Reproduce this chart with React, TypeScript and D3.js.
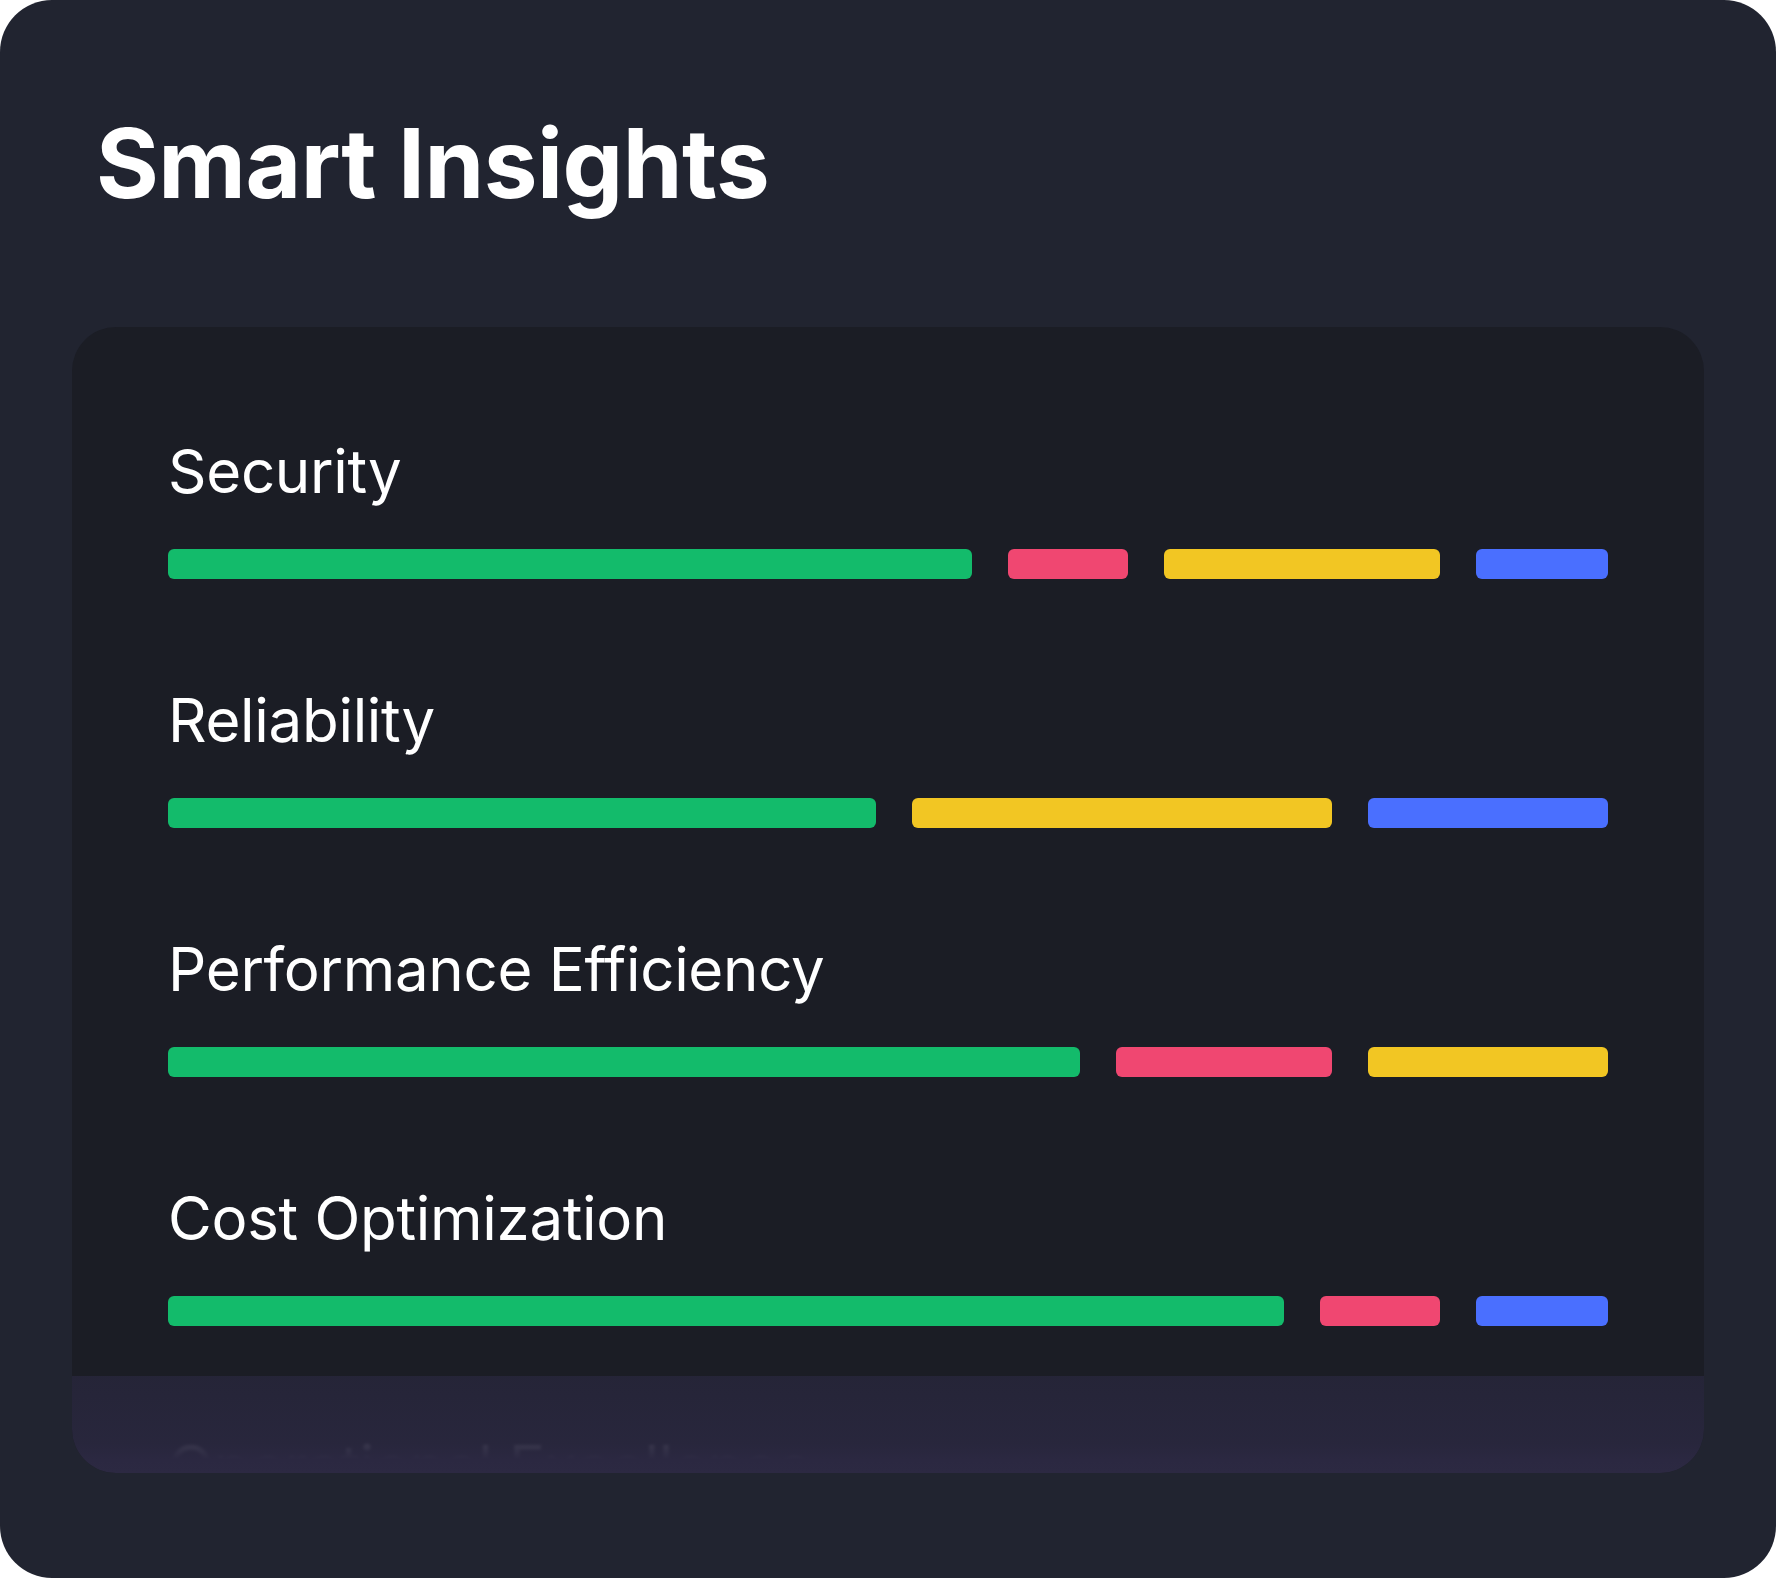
import React from 'react';
import * as d3 from 'd3';

const categories = ['Security', 'Reliability', 'Performance Efficiency', 'Cost Optimization', 'Operational Excellence'];

// finding counts per pillar (last pillar is hidden under the fade)
const passed = [67, 59, 76, 93];
const critical = [10, 0, 18, 10];
const warning = [23, 35, 20, 0];
const info = [11, 20, 0, 11];

const seriesColors = ['#13BB6B', '#F04771', '#F2C623', '#4A6FFF'];

const W = 1776;
const H = 1578;

function App() {
  const panel = { x: 72, y: 327, w: W - 144, h: 1146 };
  const padX = 96;
  const rowLeft = panel.x + padX;
  const rowWidth = panel.w - padX * 2;
  const gap = 36;
  const barH = 30;

  const rowY = d3.scalePoint<string>()
    .domain(categories)
    .range([493, 1489]);

  const rows = categories.slice(0, passed.length).map((cat, i) => {
    const vals = [passed[i], critical[i], warning[i], info[i]]
      .map((v, k) => ({ v, color: seriesColors[k] }))
      .filter(d => d.v > 0);
    const total = d3.sum(vals, d => d.v);
    const x = d3.scaleLinear()
      .domain([0, total])
      .range([0, rowWidth - gap * (vals.length - 1)]);
    let acc = 0;
    const segs = vals.map((d, k) => {
      const s = { x: rowLeft + x(acc) + k * gap, w: x(d.v), color: d.color };
      acc += d.v;
      return s;
    });
    return { cat, segs };
  });

  const fadeTop = 1376;

  return (
    <svg width={W} height={H} style={{ position: 'absolute', left: 0, top: 0, display: 'block' }}
      fontFamily="Inter, 'Noto Sans', sans-serif">
      <defs>
        <clipPath id="panelClip">
          <rect x={panel.x} y={panel.y} width={panel.w} height={panel.h} rx={44} />
        </clipPath>
        <linearGradient id="fade" x1="0" y1="0" x2="0" y2="1">
          <stop offset="0%" stopColor="rgb(38,37,57)" stopOpacity={0.93} />
          <stop offset="70%" stopColor="rgb(41,39,62)" stopOpacity={0.93} />
          <stop offset="86%" stopColor="rgb(43,40,65)" stopOpacity={1} />
          <stop offset="100%" stopColor="rgb(44,41,66)" stopOpacity={1} />
        </linearGradient>
        <filter id="soft" x="-5%" y="-20%" width="110%" height="140%">
          <feGaussianBlur stdDeviation={1.8} />
        </filter>
      </defs>

      <rect x={0} y={0} width={W} height={H} rx={52} fill="#212430" />

      <text x={96} y={198} fill="#ffffff" fontSize={96} fontWeight={700} letterSpacing={-0.5}>
        Smart Insights
      </text>

      <g clipPath="url(#panelClip)">
        <rect x={panel.x} y={panel.y} width={panel.w} height={panel.h} fill="#1B1D25" />

        {categories.map((cat, i) => (
          <text key={cat} x={rowLeft} y={rowY(cat)} fill="#ffffff" fontSize={60} letterSpacing={-0.3}
            filter={i >= rows.length ? 'url(#soft)' : undefined}>
            {cat}
          </text>
        ))}

        {rows.map(r => (
          <g key={r.cat}>
            {r.segs.map((s, k) => (
              <rect key={k} x={s.x} y={(rowY(r.cat) ?? 0) + 56} width={s.w} height={barH}
                rx={6} fill={s.color} />
            ))}
          </g>
        ))}

        <rect x={panel.x} y={fadeTop} width={panel.w} height={panel.y + panel.h - fadeTop} fill="url(#fade)" />
      </g>
    </svg>
  );
}

export default App;
